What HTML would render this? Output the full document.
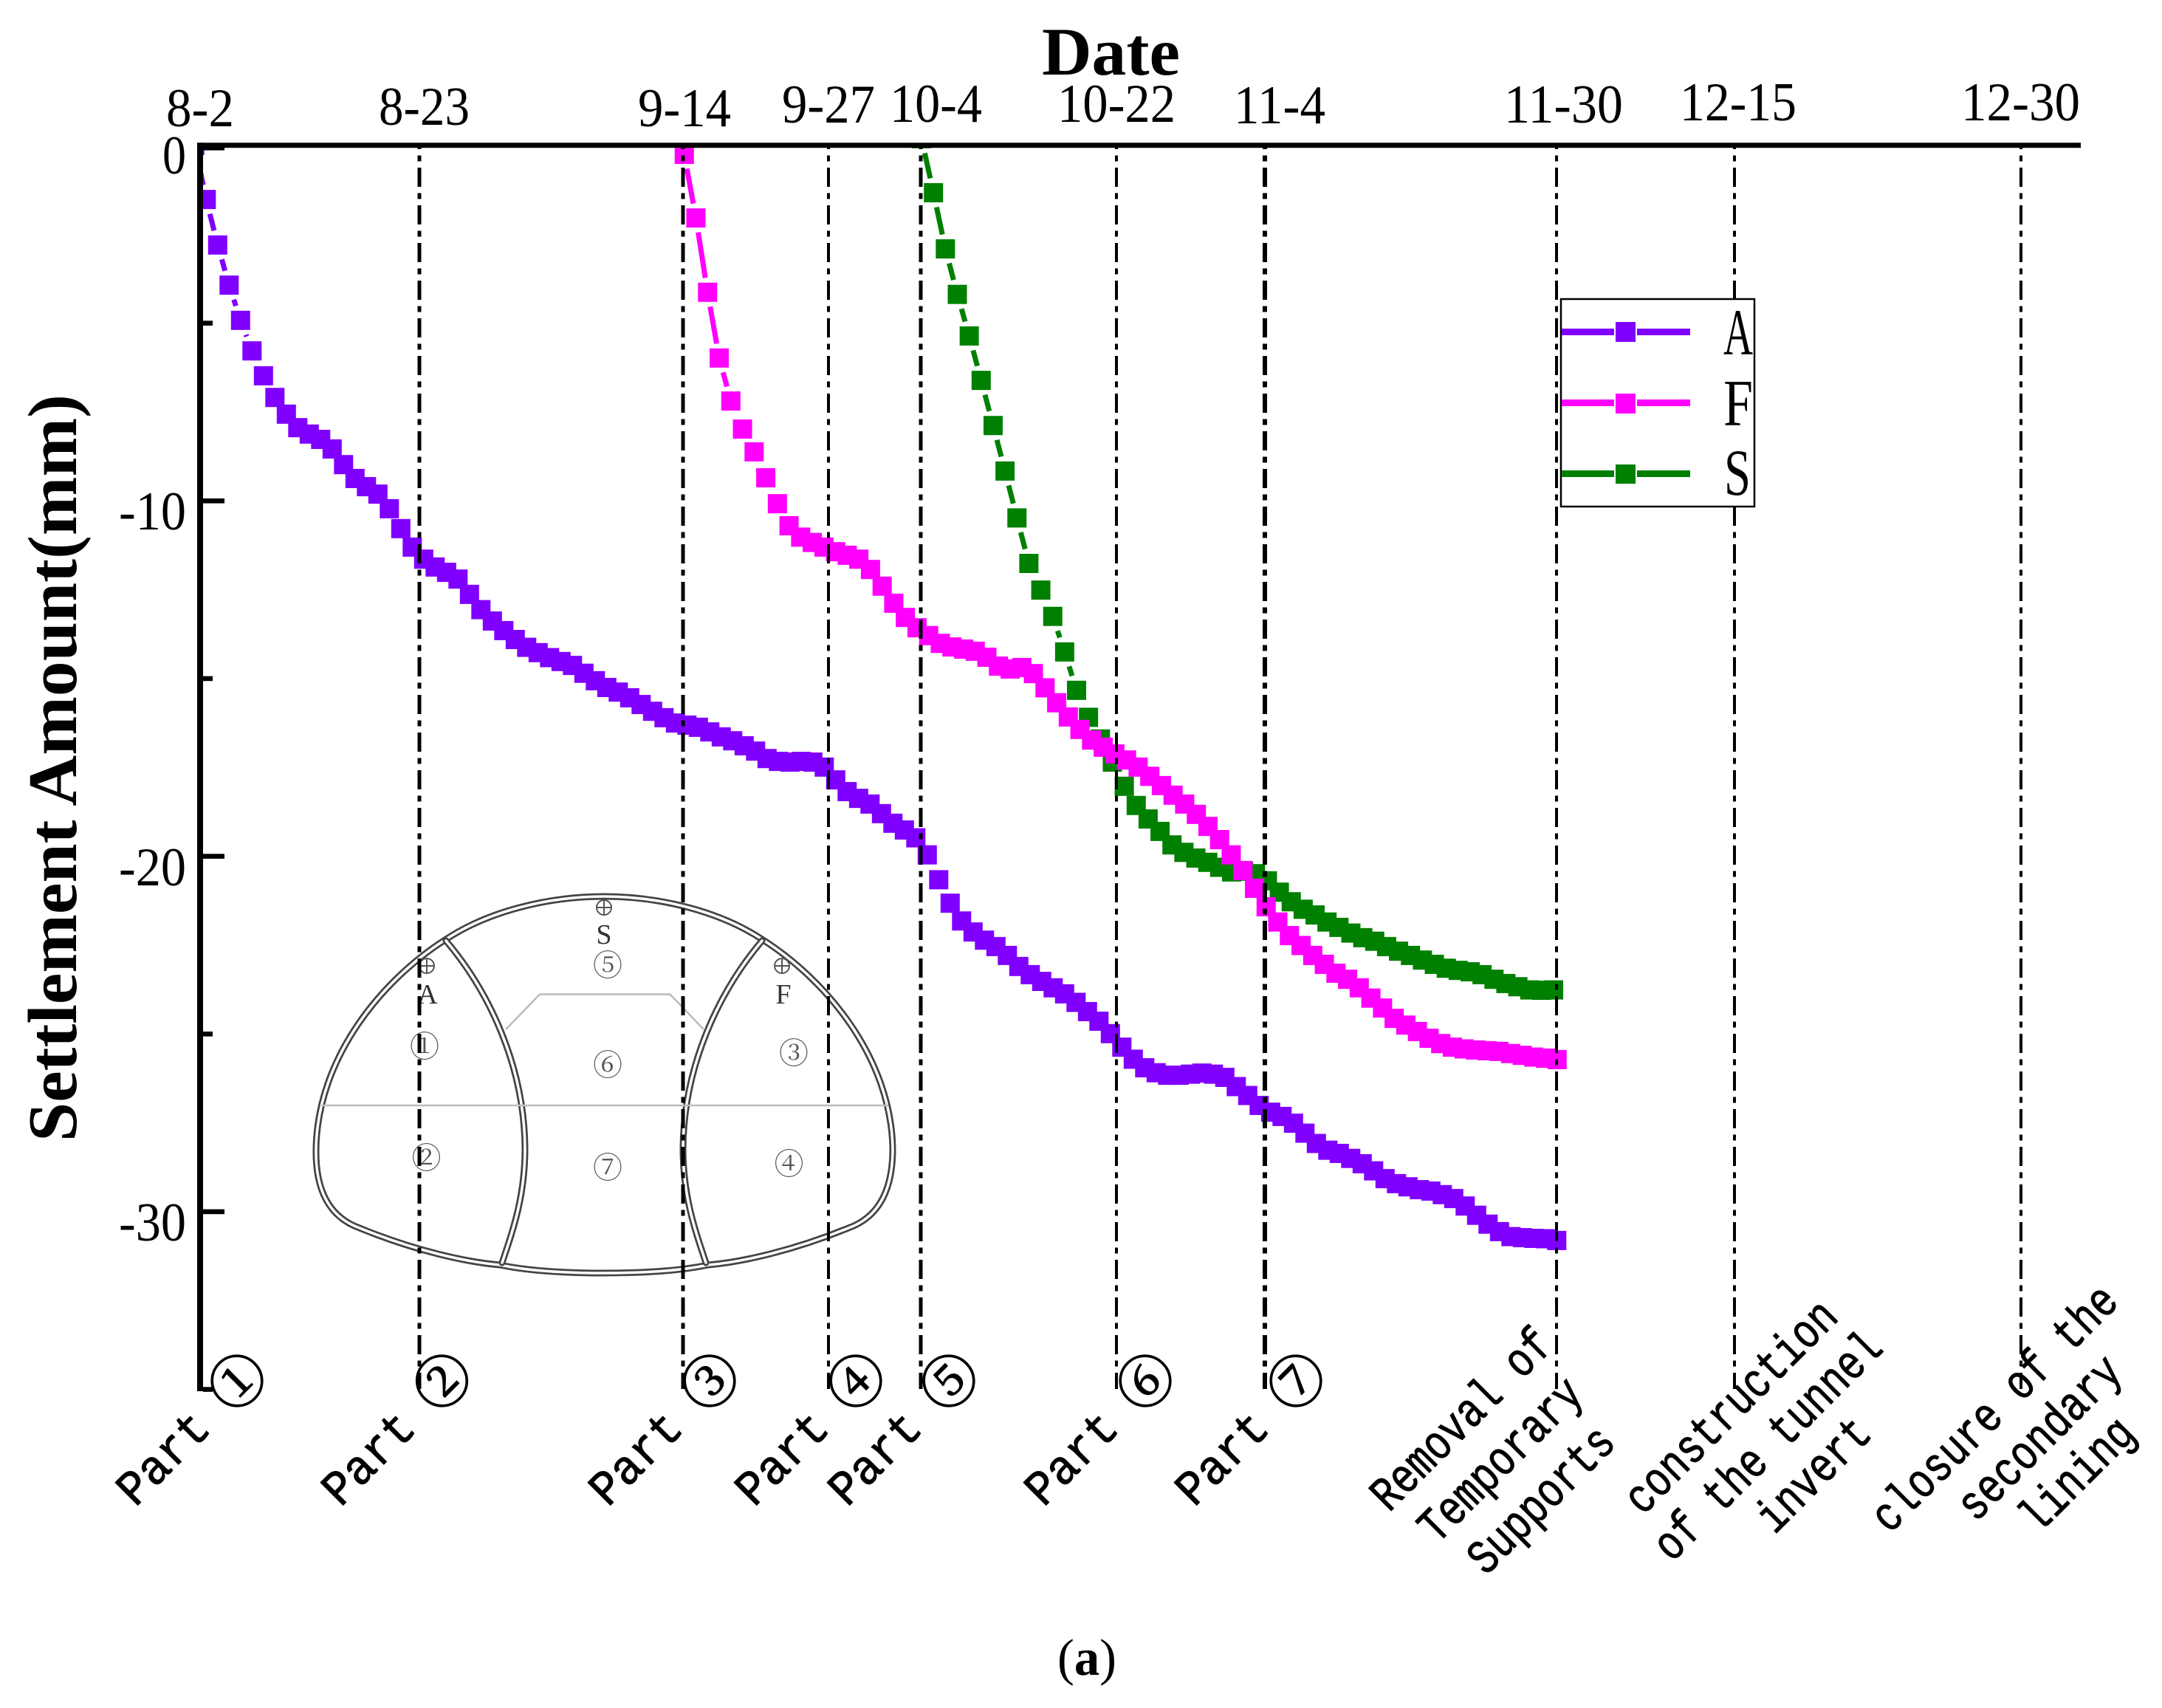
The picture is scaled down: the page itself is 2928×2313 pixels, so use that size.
<!DOCTYPE html>
<html lang="en">
<head>
<meta charset="utf-8">
<title>Settlement Amount vs Date</title>
<style>
html,body{margin:0;padding:0;background:#fff;}
svg{display:block;}
text{fill:#000;font-family:"Liberation Serif","Noto Serif CJK SC",serif;}
.top{font-size:74px;}
.yl{font-size:74px;}
.rot{font-family:"Liberation Mono","Noto Serif CJK SC",monospace;font-size:66px;text-anchor:middle;stroke:#000;stroke-width:1;}
.circ{font-family:"Noto Serif CJK SC","DejaVu Sans",serif;font-size:75px;text-anchor:middle;stroke:#000;stroke-width:1.5;}
.tun{font-family:"Noto Serif CJK SC","DejaVu Sans",serif;font-size:40px;text-anchor:middle;fill:#555;}
.tunl{font-size:38px;text-anchor:middle;fill:#333;}
</style>
</head>
<body>
<svg id="chart" xmlns="http://www.w3.org/2000/svg" width="2928" height="2313" viewBox="0 0 2928 2313">
<rect x="0" y="0" width="2928" height="2313" fill="#fff"/>
<defs><clipPath id="plot-clip"><rect x="271" y="198" width="2560" height="1690"/></clipPath></defs>

<g id="tunnel">
  <g fill="none" stroke-linecap="round">
    <path d="M818,1214 C740,1214 660,1235 604,1272 C520,1325 430,1430 428,1556 C427,1610 445,1648 487,1663 C560,1693 630,1709 677,1713 C720,1722 770,1724 818,1724 C866,1724 916,1722 959,1713 C1006,1709 1076,1693 1149,1663 C1191,1648 1209,1610 1209,1556 C1207,1430 1116,1325 1032,1272 C976,1235 896,1214 818,1214 Z" stroke="#444" stroke-width="9"/>
    <path d="M818,1214 C740,1214 660,1235 604,1272 C520,1325 430,1430 428,1556 C427,1610 445,1648 487,1663 C560,1693 630,1709 677,1713 C720,1722 770,1724 818,1724 C866,1724 916,1722 959,1713 C1006,1709 1076,1693 1149,1663 C1191,1648 1209,1610 1209,1556 C1207,1430 1116,1325 1032,1272 C976,1235 896,1214 818,1214 Z" stroke="#fff" stroke-width="3.5"/>
    <path d="M604,1274 C660,1340 710,1440 711,1555 C711,1620 695,1665 680,1710" stroke="#444" stroke-width="9"/>
    <path d="M604,1274 C660,1340 710,1440 711,1555 C711,1620 695,1665 680,1710" stroke="#fff" stroke-width="3.5"/>
    <path d="M1032,1274 C976,1340 926,1440 925,1555 C925,1620 941,1665 956,1710" stroke="#444" stroke-width="9"/>
    <path d="M1032,1274 C976,1340 926,1440 925,1555 C925,1620 941,1665 956,1710" stroke="#fff" stroke-width="3.5"/>
    <line x1="436" y1="1497" x2="1202" y2="1497" stroke="#bbb" stroke-width="2.5"/>
    <polyline points="686,1393 731,1346.5 907.5,1346.5 952,1393" stroke="#bbb" stroke-width="2.5"/>
  </g>
  <g fill="none" stroke="#555" stroke-width="2">
    <circle cx="818" cy="1229" r="10"/>
    <path d="M808,1229H828M818,1219V1239"/>
    <circle cx="578" cy="1308" r="10"/>
    <path d="M568,1308H588M578,1298V1318"/>
    <circle cx="1059" cy="1308" r="10"/>
    <path d="M1049,1308H1069M1059,1298V1318"/>
  </g>
  <text class="tunl" x="818" y="1278">S</text>
  <text class="tunl" x="579" y="1359">A</text>
  <text class="tunl" x="1061" y="1359">F</text>
  <text class="tun" x="823" y="1321">⑤</text>
  <text class="tun" x="823" y="1456">⑥</text>
  <text class="tun" x="823" y="1595">⑦</text>
  <text class="tun" x="575" y="1431">①</text>
  <text class="tun" x="577.5" y="1582">②</text>
  <text class="tun" x="1075" y="1440">③</text>
  <text class="tun" x="1068.5" y="1590">④</text>
</g>

<g id="series" clip-path="url(#plot-clip)"></g>
<g id="events"></g>
<g id="axes"></g>

<text x="1411" y="101" font-size="92" font-weight="bold" textLength="187" lengthAdjust="spacingAndGlyphs">Date</text>
<text transform="rotate(-90 103 1546)" x="103" y="1546" font-size="94" font-weight="bold" textLength="1012" lengthAdjust="spacingAndGlyphs">Settlement Amount(mm)</text>

<g>
  <text class="top" x="225" y="171" textLength="92" lengthAdjust="spacingAndGlyphs">8-2</text>
  <text class="top" x="513" y="169" textLength="123" lengthAdjust="spacingAndGlyphs">8-23</text>
  <text class="top" x="864" y="171" textLength="126" lengthAdjust="spacingAndGlyphs">9-14</text>
  <text class="top" x="1059" y="166" textLength="126" lengthAdjust="spacingAndGlyphs">9-27</text>
  <text class="top" x="1205" y="165" textLength="125" lengthAdjust="spacingAndGlyphs">10-4</text>
  <text class="top" x="1432" y="165" textLength="160" lengthAdjust="spacingAndGlyphs">10-22</text>
  <text class="top" x="1671" y="167" textLength="124" lengthAdjust="spacingAndGlyphs">11-4</text>
  <text class="top" x="2037" y="166" textLength="161" lengthAdjust="spacingAndGlyphs">11-30</text>
  <text class="top" x="2275" y="163" textLength="158" lengthAdjust="spacingAndGlyphs">12-15</text>
  <text class="top" x="2656" y="163" textLength="161" lengthAdjust="spacingAndGlyphs">12-30</text>
</g>

<g>
  <text class="yl" x="220" y="235" textLength="32" lengthAdjust="spacingAndGlyphs">0</text>
  <text class="yl" x="161" y="717" textLength="91" lengthAdjust="spacingAndGlyphs">-10</text>
  <text class="yl" x="161" y="1199" textLength="91" lengthAdjust="spacingAndGlyphs">-20</text>
  <text class="yl" x="161" y="1680" textLength="91" lengthAdjust="spacingAndGlyphs">-30</text>
</g>

<g>
  <g><text class="rot" transform="rotate(-45 220 1974)" x="220" y="1996" textLength="148" lengthAdjust="spacingAndGlyphs">Part</text><text class="circ" transform="rotate(-45 322 1871)" x="322" y="1898">①</text></g>
  <g><text class="rot" transform="rotate(-45 498 1974)" x="498" y="1996" textLength="148" lengthAdjust="spacingAndGlyphs">Part</text><text class="circ" transform="rotate(-45 599.5 1871)" x="599.5" y="1898">②</text></g>
  <g><text class="rot" transform="rotate(-45 860 1974)" x="860" y="1996" textLength="148" lengthAdjust="spacingAndGlyphs">Part</text><text class="circ" transform="rotate(-45 962 1871)" x="962" y="1898">③</text></g>
  <g><text class="rot" transform="rotate(-45 1058 1974)" x="1058" y="1996" textLength="148" lengthAdjust="spacingAndGlyphs">Part</text><text class="circ" transform="rotate(-45 1160 1871)" x="1160" y="1898">④</text></g>
  <g><text class="rot" transform="rotate(-45 1184 1974)" x="1184" y="1996" textLength="148" lengthAdjust="spacingAndGlyphs">Part</text><text class="circ" transform="rotate(-45 1286 1871)" x="1286" y="1898">⑤</text></g>
  <g><text class="rot" transform="rotate(-45 1450 1974)" x="1450" y="1996" textLength="148" lengthAdjust="spacingAndGlyphs">Part</text><text class="circ" transform="rotate(-45 1552 1871)" x="1552" y="1898">⑥</text></g>
  <g><text class="rot" transform="rotate(-45 1654 1974)" x="1654" y="1996" textLength="148" lengthAdjust="spacingAndGlyphs">Part</text><text class="circ" transform="rotate(-45 1756 1871)" x="1756" y="1898">⑦</text></g>
</g>

<g>
  <g>
    <text class="rot" transform="rotate(-45 1978 1921)" x="1978" y="1943" textLength="318" lengthAdjust="spacingAndGlyphs">Removal of</text>
    <text class="rot" transform="rotate(-45 2031 1976)" x="2031" y="1998" textLength="285" lengthAdjust="spacingAndGlyphs">Temporary</text>
    <text class="rot" transform="rotate(-45 2086 2030)" x="2086" y="2052" textLength="252" lengthAdjust="spacingAndGlyphs">Supports</text>
  </g>
  <g>
    <text class="rot" transform="rotate(-45 2343 1904)" x="2343" y="1926" textLength="378" lengthAdjust="spacingAndGlyphs">construction</text>
    <text class="rot" transform="rotate(-45 2393 1957)" x="2393" y="1979" textLength="408" lengthAdjust="spacingAndGlyphs">of the tunnel</text>
    <text class="rot" transform="rotate(-45 2455 1996)" x="2455" y="2018" textLength="190" lengthAdjust="spacingAndGlyphs">invert</text>
  </g>
  <g>
    <text class="rot" transform="rotate(-45 2700 1906)" x="2700" y="1928" textLength="442" lengthAdjust="spacingAndGlyphs">closure of the</text>
    <text class="rot" transform="rotate(-45 2761 1946)" x="2761" y="1968" textLength="285" lengthAdjust="spacingAndGlyphs">secondary</text>
    <text class="rot" transform="rotate(-45 2812 1996)" x="2812" y="2018" textLength="190" lengthAdjust="spacingAndGlyphs">lining</text>
  </g>
</g>

<g>
  <rect x="2114" y="405" width="262" height="281" fill="#fff" stroke="#000" stroke-width="2.5"/>
  <g>
    <rect x="2115" y="445" width="71" height="9" fill="#8000ff"/><rect x="2217" y="445" width="72" height="9" fill="#8000ff"/><rect x="2188" y="436" width="27" height="27" fill="#8000ff"/>
    <text x="2334" y="480" font-size="89" textLength="40" lengthAdjust="spacingAndGlyphs">A</text>
  </g>
  <g>
    <rect x="2115" y="541" width="71" height="9" fill="#ff00ff"/><rect x="2217" y="541" width="72" height="9" fill="#ff00ff"/><rect x="2188" y="533" width="27" height="27" fill="#ff00ff"/>
    <text x="2334" y="575.5" font-size="89" textLength="40" lengthAdjust="spacingAndGlyphs">F</text>
  </g>
  <g>
    <rect x="2115" y="637" width="71" height="9" fill="#008000"/><rect x="2217" y="637" width="72" height="9" fill="#008000"/><rect x="2188" y="629" width="27" height="26" fill="#008000"/>
    <text x="2335" y="670" font-size="89" textLength="36" lengthAdjust="spacingAndGlyphs">S</text>
  </g>
</g>

<text x="1432" y="2268" font-size="70" textLength="80" lengthAdjust="spacingAndGlyphs">(<tspan font-weight="bold">a</tspan>)</text>
</svg>

<script>
// Settlement readings in mm (sampled at each survey)
const valuesA = [0,-1.52,-2.80,-3.93,-4.92,-5.78,-6.48,-7.09,-7.56,-7.94,-8.12,-8.27,-8.54,-8.98,-9.37,-9.60,-9.81,-10.22,-10.78,-11.30,-11.64,-11.86,-12.01,-12.20,-12.63,-13.06,-13.38,-13.65,-13.90,-14.12,-14.27,-14.41,-14.52,-14.63,-14.85,-15.06,-15.25,-15.38,-15.54,-15.73,-15.92,-16.10,-16.25,-16.31,-16.37,-16.50,-16.64,-16.75,-16.89,-17.04,-17.25,-17.33,-17.35,-17.33,-17.35,-17.49,-17.85,-18.18,-18.37,-18.53,-18.80,-19.07,-19.26,-19.48,-19.96,-20.66,-21.32,-21.82,-22.13,-22.36,-22.54,-22.79,-23.10,-23.33,-23.52,-23.70,-23.87,-24.11,-24.37,-24.64,-24.99,-25.37,-25.71,-25.95,-26.09,-26.16,-26.16,-26.13,-26.10,-26.13,-26.22,-26.48,-26.73,-27.01,-27.20,-27.32,-27.51,-27.79,-28.08,-28.27,-28.36,-28.50,-28.65,-28.85,-29.07,-29.21,-29.30,-29.38,-29.42,-29.52,-29.63,-29.84,-30.10,-30.35,-30.56,-30.70,-30.73,-30.75,-30.76,-30.81];
const valuesF = [-0.25,-2.04,-4.13,-5.98,-7.19,-7.98,-8.62,-9.35,-10.08,-10.70,-11.02,-11.17,-11.30,-11.43,-11.53,-11.64,-11.93,-12.40,-12.88,-13.28,-13.57,-13.79,-14.01,-14.11,-14.17,-14.23,-14.40,-14.65,-14.73,-14.69,-14.86,-15.26,-15.68,-16.08,-16.43,-16.73,-16.93,-17.12,-17.29,-17.49,-17.75,-18.01,-18.28,-18.53,-18.82,-19.16,-19.53,-19.96,-20.40,-20.90,-21.42,-21.85,-22.23,-22.51,-22.79,-23.04,-23.29,-23.46,-23.70,-23.99,-24.27,-24.56,-24.75,-24.93,-25.12,-25.27,-25.37,-25.42,-25.45,-25.47,-25.49,-25.55,-25.60,-25.65,-25.68,-25.72];
const valuesS = [0.19,-1.33,-2.91,-4.19,-5.36,-6.61,-7.88,-9.16,-10.48,-11.76,-12.51,-13.25,-14.25,-15.33,-16.09,-16.70,-17.35,-18.03,-18.57,-18.95,-19.30,-19.68,-19.89,-20.05,-20.17,-20.31,-20.44,-20.42,-20.49,-20.69,-21.01,-21.28,-21.49,-21.65,-21.85,-22.00,-22.16,-22.29,-22.39,-22.54,-22.67,-22.79,-22.92,-23.04,-23.15,-23.21,-23.25,-23.33,-23.46,-23.58,-23.67,-23.76,-23.77,-23.76];
// Day offset of the first reading and days between readings
const startDayA = -0.4, stepDayA = 1;
const startDayF = 42.37, stepDayF = 1.0168;
const startDayS = 63.1, stepDayS = 1.042;
// Construction events, position along the date axis
const eventDays = [19.2,42.28,54.99,63.03,80.1,93.1,118.55,134.13,159.16];
const eventNames = ['8-23','9-14','9-27','10-4','10-22','11-4','11-30','12-15','12-30'];
const majorTicks = [0,-10,-20,-30];
const minorTicks = [-5,-15,-25,-35];

const NS = 'http://www.w3.org/2000/svg';
function xScale(day){ return 270 + 15.5 * day; }
function yScale(mm){ return 197 - 48.13 * mm; }

function make(tag, attrs){
  const el = document.createElementNS(NS, tag);
  for (const k in attrs) el.setAttribute(k, attrs[k]);
  return el;
}

const seriesLayer = document.getElementById('series');
const markerHalf = 13;
const clearance = 19.5;

function drawSeries(key, values, startDay, stepDay, color){
  const group = make('g', {});
  
  
  const px = values.map(function(v, i){ return [xScale(startDay + i * stepDay), yScale(v)]; });
  for (let i = 0; i < px.length - 1; i++){
    const a = px[i], b = px[i + 1];
    const dx = b[0] - a[0], dy = b[1] - a[1];
    const tx = Math.abs(dx) > 0 ? clearance / Math.abs(dx) : Infinity;
    const ty = Math.abs(dy) > 0 ? clearance / Math.abs(dy) : Infinity;
    const t = Math.min(tx, ty);
    if (t >= 0.5) continue;
    const seg = make('line', {x1: a[0] + dx * t, y1: a[1] + dy * t, x2: b[0] - dx * t, y2: b[1] - dy * t, stroke: color, 'stroke-width': 7});
    
    
    group.appendChild(seg);
  }
  px.forEach(function(p){
    const m = make('rect', {x: p[0] - markerHalf, y: p[1] - markerHalf, width: markerHalf * 2, height: markerHalf * 2, fill: color});
    
    
    group.appendChild(m);
  });
  seriesLayer.appendChild(group);
}

drawSeries('a', valuesA, startDayA, stepDayA, '#8000ff');
drawSeries('s', valuesS, startDayS, stepDayS, '#008000');
drawSeries('f', valuesF, startDayF, stepDayF, '#ff00ff');

const eventLayer = document.getElementById('events');
function eventStroke(name){
  if (name === '11-4') return 6;
  if (name === '8-23' || name === '9-14' || name === '10-4') return 5;
  return 4;
}
eventDays.forEach(function(d, i){
  const x = Math.round(xScale(d));
  const ln = make('line', {x1: x, y1: 198, x2: x, y2: 1881, stroke: '#000', 'stroke-width': eventStroke(eventNames[i]), 'stroke-dasharray': '26 8.5 8 8.5', 'stroke-dashoffset': 22});
  
  
  eventLayer.appendChild(ln);
});

const axes = document.getElementById('axes');
const yAxis = make('rect', {x: 267, y: 193.3, width: 8, height: 1690.7, fill: '#000'});


axes.appendChild(yAxis);
const xAxis = make('rect', {x: 267, y: 193.3, width: 2551, height: 6.9, fill: '#000'});


axes.appendChild(xAxis);
majorTicks.forEach(function(v){
  const t = make('rect', {x: 275, y: Math.max(yScale(v) - 3.3, 197), width: 29, height: 6.6, fill: '#000'});
  
  
  axes.appendChild(t);
});
minorTicks.forEach(function(v){
  const t = make('rect', {x: 275, y: yScale(v) - 3.3, width: 13, height: 6.6, fill: '#000'});
  
  
  axes.appendChild(t);
});
</script>
</body>
</html>
